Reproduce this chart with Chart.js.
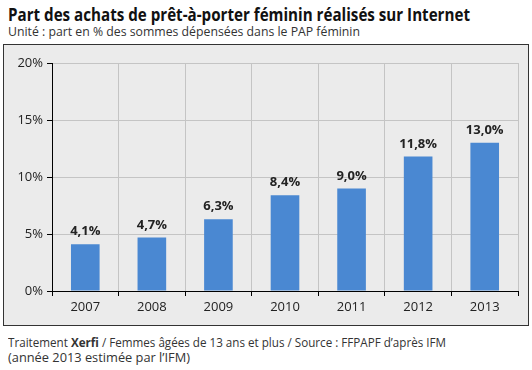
<!DOCTYPE html>
<html>
<head>
<meta charset="utf-8">
<script src="https://cdn.jsdelivr.net/npm/chart.js@4/dist/chart.umd.min.js"></script>
<style>
  html, body { margin: 0; padding: 0; background: #fff; }
  body { width: 532px; height: 370px; position: relative; overflow: hidden; font-family: "Open Sans", "Noto Sans", sans-serif; color: #222; }
  .t { position: absolute; left: 8px; white-space: nowrap; transform-origin: 0 0; }
  #title { top: 2px; font-size: 18px; font-weight: bold; color: #111; }
  #sub { top: 22px; font-size: 13px; color: #333; }
  #foot1 { top: 333px; font-size: 13px; color: #333; }
  #foot2 { top: 348px; font-size: 13px; color: #333; }
  #box { position: absolute; left: 3px; top: 44px; width: 526px; height: 282px; box-sizing: border-box; border: 1px solid #333; background: #ebebeb; }
  canvas { display: block; }
</style>
</head>
<body>
<div class="t" id="title" data-w="462">Part des achats de prêt-à-porter féminin réalisés sur Internet</div>
<div class="t" id="sub" data-w="352">Unité : part en % des sommes dépensées dans le PAP féminin</div>
<div id="box"><canvas id="c" width="524" height="280"></canvas></div>
<div class="t" id="foot1" data-w="438">Traitement <b>Xerfi</b> / Femmes âgées de 13 ans et plus / Source : FFPAPF d’après IFM</div>
<div class="t" id="foot2" data-w="182">(année 2013 estimée par l’IFM)</div>
<script>
'use strict';

const years = ['2007', '2008', '2009', '2010', '2011', '2012', '2013'];
const shares = [4.1, 4.7, 6.3, 8.4, 9.0, 11.8, 13.0];
const yTicks = [0, 5, 10, 15, 20];

// squeeze text blocks to the widths seen in the reference
document.querySelectorAll('.t').forEach(el => {
  const target = Number(el.dataset.w);
  const w = el.getBoundingClientRect().width;
  if (w > 0) el.style.transform = `scaleX(${target / w})`;
});

const fmt = v => v.toFixed(1).replace('.', ',') + '%';

const barLabels = {
  id: 'barLabels',
  afterDatasetsDraw(chart) {
    const ctx = chart.ctx;
    const meta = chart.getDatasetMeta(0);
    ctx.save();
    ctx.font = 'bold 13px "Open Sans", sans-serif';
    ctx.fillStyle = '#222';
    ctx.textAlign = 'center';
    ctx.textBaseline = 'bottom';
    meta.data.forEach((bar, i) => {
      ctx.fillText(fmt(shares[i]), bar.x, bar.y - 6);
    });
    ctx.restore();
  },
};

new Chart(document.getElementById('c'), {
  type: 'bar',
  data: {
    labels: years,
    datasets: [{
      data: shares,
      backgroundColor: '#4a88d2',
      barPercentage: 0.86,
      categoryPercentage: 0.5,
    }],
  },
  options: {
    responsive: false,
    animation: false,
    layout: { padding: { top: 18, right: 10, left: 0, bottom: 0 } },
    plugins: { legend: { display: false }, tooltip: { enabled: false } },
    scales: {
      x: {
        afterFit: s => { s.height = 34; },
        grid: { color: '#c4c4c4', tickColor: '#000', tickLength: 5, offset: true },
        border: { color: '#000', width: 1 },
        ticks: { color: '#222', font: { size: 13, family: '"Open Sans", sans-serif' }, padding: 3 },
      },
      y: {
        min: 0,
        max: 20,
        afterFit: s => { s.width = 48; },
        afterBuildTicks: s => { s.ticks = yTicks.map(v => ({ value: v })); },
        grid: { color: '#c4c4c4', tickColor: '#000', tickLength: 5 },
        border: { color: '#000', width: 1 },
        ticks: { color: '#222', font: { size: 13, family: '"Open Sans", sans-serif' }, padding: 4, callback: v => v + '%' },
      },
    },
  },
  plugins: [barLabels],
});
</script>
</body>
</html>
